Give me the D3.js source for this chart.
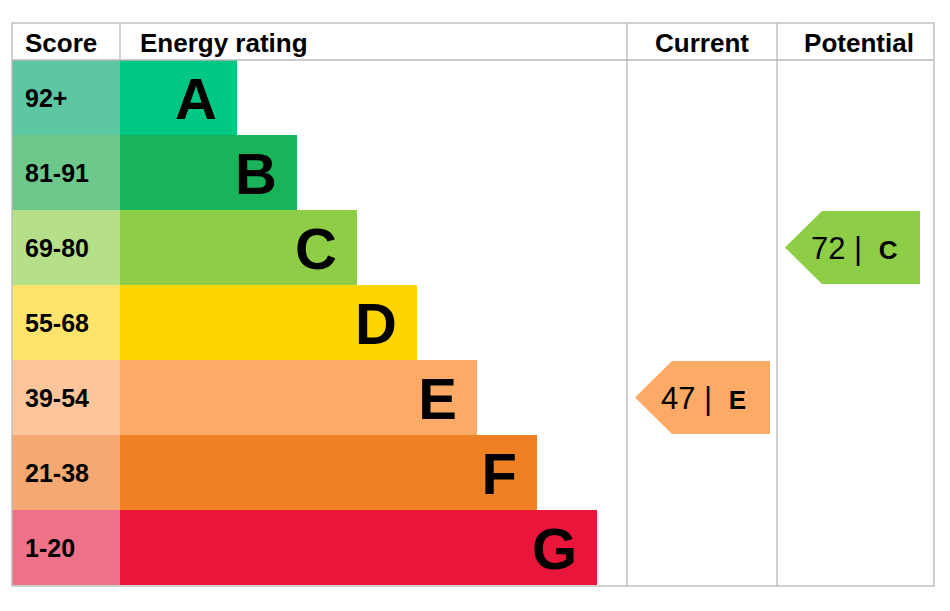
<!DOCTYPE html>
<html><head><meta charset="utf-8">
<script src="https://cdn.jsdelivr.net/npm/d3@7"></script>
<style>body{margin:0;background:#fff}</style></head>
<body><svg id="c" width="950" height="611"></svg>
<script>
const bands = ["A","B","C","D","E","F","G"];
const scores = ["92+","81-91","69-80","55-68","39-54","21-38","1-20"];
const barColors = ["#00c781","#19b459","#8dce46","#ffd500","#fcaa65","#ef8023","#e9153b"];
const scoreColors = ["#5cc7a0","#6ec88c","#b6df8a","#ffe46c","#fdc69a","#f4a872","#ef7289"];
const headers = ["Score","Energy rating","Current","Potential"];
const current = {value:47, band:"E"};
const potential = {value:72, band:"C"};

const svg = d3.select("#c");
const font = "Arial, Liberation Sans, sans-serif";
const L=12, R=934, T=23, H=60, B=586;
const cScore=120, cCur=627, cPot=777;
const y = d3.scaleBand().domain(bands).range([H, B-1]);
const xEnd = d3.scaleLinear().domain([0,6]).range([237,597]);
const grid = "#b8b8b8";

// score cells
svg.selectAll(".s").data(bands).join("rect")
  .attr("x",L).attr("y",d=>y(d)).attr("width",cScore-L).attr("height",y.bandwidth())
  .attr("fill",(d,i)=>scoreColors[i]);
svg.selectAll(".st").data(bands).join("text")
  .attr("x",25).attr("y",d=>y(d)+y.bandwidth()/2+9)
  .attr("font-family",font).attr("font-weight","bold").attr("font-size",25)
  .text((d,i)=>scores[i]);
// bars
svg.selectAll(".b").data(bands).join("rect")
  .attr("x",cScore).attr("y",d=>y(d)).attr("width",(d,i)=>xEnd(i)-cScore).attr("height",y.bandwidth())
  .attr("fill",(d,i)=>barColors[i]);
svg.selectAll(".bt").data(bands).join("text")
  .attr("x",(d,i)=>xEnd(i)-20).attr("y",d=>y(d)+y.bandwidth()/2+21)
  .attr("text-anchor","end")
  .attr("font-family",font).attr("font-weight","bold").attr("font-size",58)
  .text(d=>d);

// grid
const g = svg.append("g").attr("stroke",grid).attr("stroke-width",1.3).attr("fill","none");
g.append("rect").attr("x",L).attr("y",T).attr("width",R-L).attr("height",B-T);
g.append("line").attr("x1",L).attr("x2",R).attr("y1",H).attr("y2",H);
[cScore,cCur,cPot].forEach(x=>g.append("line").attr("x1",x).attr("x2",x).attr("y1",T).attr("y2",x===cScore?H:B));

// headers
const hx=[[25,"start"],[140,"start"],[702,"middle"],[859,"middle"]];
headers.forEach((h,i)=>svg.append("text").attr("x",hx[i][0]).attr("y",52)
  .attr("text-anchor",hx[i][1]).attr("font-family",font).attr("font-weight","bold")
  .attr("font-size",26).text(h));

// arrows
function arrow(r, x0, x1){
  const i = bands.indexOf(r.band);
  const yt=y(r.band)+1, yb=y(r.band)+y.bandwidth()-1, ym=(yt+yb)/2;
  svg.append("path").attr("d",`M${x0},${ym}L${x0+37},${yt}L${x1},${yt}L${x1},${yb}L${x0+37},${yb}Z`)
    .attr("fill",barColors[i]);
  const t = svg.append("text").attr("x",x0+26).attr("y",ym+11).attr("font-family",font).attr("font-size",31);
  t.append("tspan").text(r.value+" | ");
  t.append("tspan").attr("font-weight","bold").attr("font-size",26).attr("dx",8).text(r.band);
}
arrow(current,635,770);
arrow(potential,785,920);
</script></body></html>
